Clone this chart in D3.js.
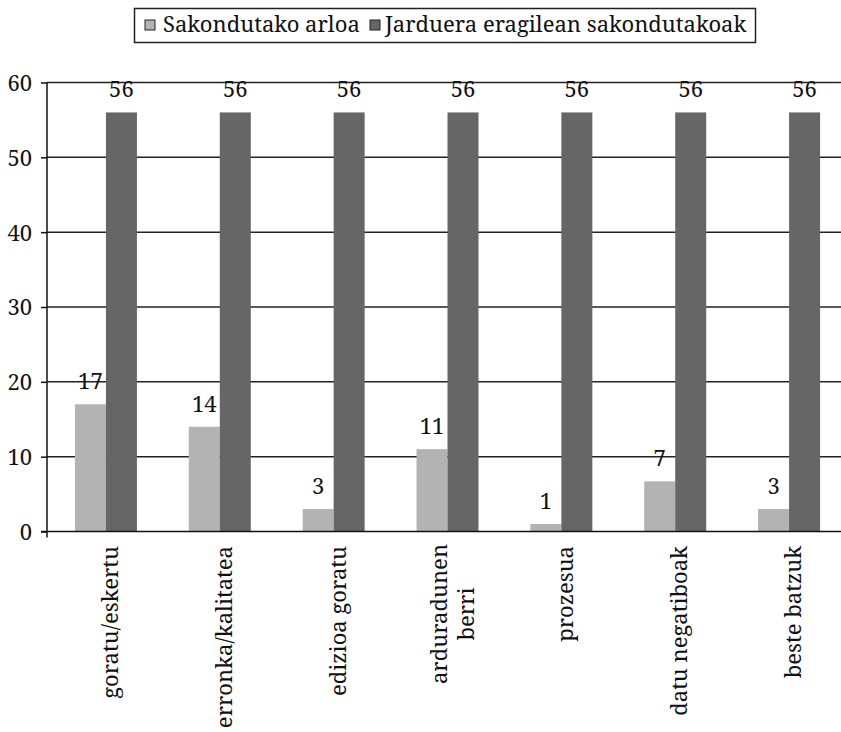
<!DOCTYPE html>
<html>
<head>
<meta charset="utf-8">
<script src="https://cdn.jsdelivr.net/npm/d3@7"></script>
<style>
  body { margin: 0; background: #fff; }
</style>
</head>
<body>
<div id="chart"></div>
<script>
// categories and series
var categories = ["goratu/eskertu", "erronka/kalitatea", "edizioa goratu", "arduradunen berri", "prozesua", "datu negatiboak", "beste batzuk"];
var seriesNames = ["Sakondutako arloa", "Jarduera eragilean sakondutakoak"];
var sakondutako = [17, 14, 3, 11, 1, 6.7, 3];
var jarduera = [56, 56, 56, 56, 56, 56, 56];
var yTicks = [0, 10, 20, 30, 40, 50, 60];
var colors = ["#b3b3b3", "#666666"];

var font = "'Noto Serif', 'Liberation Serif', serif";
var fontSize = "22px";
var width = 841, height = 732;
var svg = d3.select("#chart").append("svg").attr("width", width).attr("height", height);

function serif(sel) {
    return sel.style("font-family", font).style("font-size", fontSize).attr("fill", "#111");
}

var x = d3.scaleBand().domain(categories).range([49, 846]).padding(0);
var step = x.bandwidth();
var x1 = d3.scaleBand().domain(seriesNames).range([step / 2 - 31, step / 2 + 31]).padding(0);
var y = d3.scaleLinear().domain([0, 60]).range([531.5, 82.5]);

// gridlines
svg.append("g")
    .selectAll("line")
    .data(yTicks.filter(function(d) { return d > 0; }))
    .join("line")
    .attr("x1", 47).attr("x2", width)
    .attr("y1", function(d) { return y(d); }).attr("y2", function(d) { return y(d); })
    .attr("stroke", "#222").attr("stroke-width", 1.5);

// bars
var rows = categories.map(function(c, i) { return {cat: c, values: [sakondutako[i], jarduera[i]]}; });
var groups = svg.append("g").selectAll("g")
    .data(rows)
    .join("g")
    .attr("transform", function(d) { return "translate(" + x(d.cat) + ",0)"; });

groups.selectAll("rect")
    .data(function(d) { return d.values.map(function(v, j) { return {key: seriesNames[j], value: v, j: j}; }); })
    .join("rect")
    .attr("x", function(d) { return x1(d.key); })
    .attr("width", x1.bandwidth())
    .attr("y", function(d) { return y(d.value); })
    .attr("height", function(d) { return y(0) - y(d.value); })
    .attr("fill", function(d) { return colors[d.j]; });

groups.selectAll("text.val")
    .data(function(d) { return d.values.map(function(v, j) { return {key: seriesNames[j], value: v}; }); })
    .join("text")
    .attr("class", "val")
    .attr("x", function(d) { return x1(d.key) + x1.bandwidth() / 2; })
    .attr("y", function(d) { return y(d.value) - 15; })
    .attr("text-anchor", "middle")
    .call(serif)
    .text(function(d) { return d3.format(".0f")(d.value); });

// y axis
var yAxis = svg.append("g")
    .attr("transform", "translate(47,0)")
    .call(d3.axisLeft(y).tickValues(yTicks).tickSize(6).tickPadding(9));
yAxis.select(".domain").remove();
yAxis.selectAll("line").attr("stroke", "#111").attr("stroke-width", 1.5);
yAxis.selectAll("text").call(serif).attr("dy", "0.36em");
svg.append("line")
    .attr("x1", 47).attr("x2", 47).attr("y1", y(60)).attr("y2", y(0) + 6)
    .attr("stroke", "#111").attr("stroke-width", 1.5);

// x axis
svg.append("line")
    .attr("x1", 41).attr("x2", width).attr("y1", y(0)).attr("y2", y(0))
    .attr("stroke", "#111").attr("stroke-width", 1.5);

var labels = svg.append("g").selectAll("text")
    .data(categories)
    .join("text")
    .call(serif)
    .attr("text-anchor", "end")
    .attr("transform", function(d) {
        return "translate(" + (x(d) + step / 2 + 12) + ",546) rotate(-90)";
    });
labels.each(function(d) {
    var parts = d === "arduradunen berri" ? ["arduradunen", "berri"] : [d];
    var t = d3.select(this);
    parts.forEach(function(p, i) {
        t.append("tspan")
            .attr("x", parts.length > 1 ? -68 : 0)
            .attr("dy", i === 0 ? (parts.length > 1 ? -13 : 0) : 27)
            .attr("text-anchor", parts.length > 1 ? "middle" : "end")
            .text(p);
    });
});

// legend
var legend = svg.append("g");
legend.append("rect")
    .attr("x", 134.5).attr("y", 8.5).attr("width", 621).attr("height", 34)
    .attr("fill", "#fff").attr("stroke", "#222").attr("stroke-width", 1.5);
var lx = [145, 370];
seriesNames.forEach(function(s, i) {
    legend.append("rect")
        .attr("x", lx[i]).attr("y", 20).attr("width", 10).attr("height", 10)
        .attr("fill", colors[i]).attr("stroke", "#222").attr("stroke-width", 1);
    legend.append("text")
        .attr("x", lx[i] + (i === 0 ? 18 : 15)).attr("y", 32)
        .call(serif)
        .text(s);
});
</script>
</body>
</html>
